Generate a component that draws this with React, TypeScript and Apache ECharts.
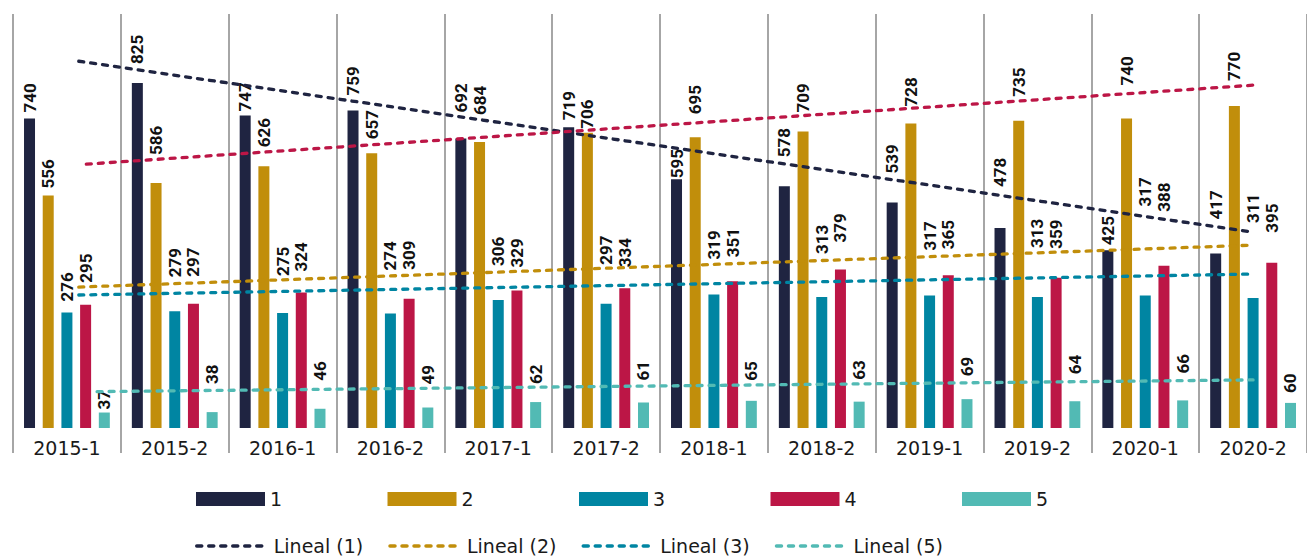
import React, { useEffect, useRef } from "react";
import * as echarts from "echarts";

// ---- data ----
const categories = ["2015-1", "2015-2", "2016-1", "2016-2", "2017-1", "2017-2", "2018-1", "2018-2", "2019-1", "2019-2", "2020-1", "2020-2"];
const barNames = ["1", "2", "3", "4", "5"];
const s1 = [740, 825, 747, 759, 692, 719, 595, 578, 539, 478, 425, 417];
const s2 = [556, 586, 626, 657, 684, 706, 695, 709, 728, 735, 740, 770];
const s3 = [276, 279, 275, 274, 306, 297, 319, 313, 317, 313, 317, 311];
const s4 = [295, 297, 324, 309, 329, 334, 351, 379, 365, 359, 388, 395];
const s5 = [37, 38, 46, 49, 62, 61, 65, 63, 69, 64, 66, 60];

// trend lines: start/end position (category index) and value
const trendNames = ["Lineal (1)", "Lineal (2)", "Lineal (3)", "Lineal (5)", "Lineal (4)"];
const trendX1 = [0.11, 10.98];
const trendY1 = [877, 469];
const trendXRed = [0.18, 11.01];
const trendYRed = [631, 820];
const trendXGold = [0.11, 10.96];
const trendYGold = [337, 437];
const trendX3 = [0.11, 10.96];
const trendY3 = [318, 368];
const trendX5 = [0.28, 11.0];
const trendY5 = [87, 115];

// label gap above each bar (px), as placed in the reference
const gap1 = [6, 19, 4, 15, 26, 7, 1, 29, 29, 41, 5, 34];
const gap2 = [7, 28, 19, 14, 27, 4, 23, 19, 17, 24, 33, 25];
const gap3 = [11, 34, 37, 43, 34, 39, 35, 43, 45, 49, 89, 75];
const gap4 = [22, 27, 21, 29, 23, 21, 24, 27, 26, 29, 54, 30];
const gap5 = [3, 28, 28, 23, 18, 22, 20, 22, 23, 27, 27, 10];

const colors = ["#1f2441", "#c18e0b", "#0085a2", "#bc1646", "#52bab4"];
const gridColor = "#a6a6a6";
const textFont = "'DejaVu Sans', sans-serif";
const labelFont = "Roboto, 'DejaVu Sans Condensed', sans-serif";

export default function App() {
  const ref = useRef<HTMLDivElement>(null);

  useEffect(() => {
    if (!ref.current) return;
    document.body.style.margin = "0";
    const chart = echarts.init(ref.current, null, { renderer: "svg" });

    const barSeries = [s1, s2, s3, s4, s5].map((vals, si) => {
      const gaps = [gap1, gap2, gap3, gap4, gap5][si];
      return {
        name: barNames[si],
        type: "bar",
        xAxisIndex: 0,
        yAxisIndex: 0,
        barWidth: 11,
        barGap: "70%",
        itemStyle: { color: colors[si] },
        label: {
          show: true,
          position: "top",
          rotate: 90,
          align: "left",
          verticalAlign: "middle",
          fontFamily: labelFont,
          fontWeight: "bold",
          fontSize: 17,
          color: "#111111",
        },
        data: vals.map((v, i) => ({ value: v, label: { distance: gaps[i] } })),
        z: 2,
      };
    });

    const mkTrend = (name: string, xs: number[], ys: number[], color: string) => ({
      name,
      type: "line",
      xAxisIndex: 1,
      yAxisIndex: 0,
      symbol: "none",
      showSymbol: false,
      lineStyle: { color, width: 3.3, type: [5, 7], cap: "round" },
      itemStyle: { color },
      data: xs.map((x, i) => [x, ys[i]]),
      z: 5,
    });

    const lineSeries = [
      mkTrend(trendNames[0], trendX1, trendY1, colors[0]),
      mkTrend(trendNames[1], trendXGold, trendYGold, colors[1]),
      mkTrend(trendNames[2], trendX3, trendY3, colors[2]),
      mkTrend(trendNames[3], trendX5, trendY5, colors[4]),
      mkTrend(trendNames[4], trendXRed, trendYRed, colors[3]),
    ];

    chart.setOption({
      animation: false,
      grid: { left: 13, top: 14, width: 1305, height: 414 },
      legend: [
        {
          data: barNames,
          left: 196,
          top: 489,
          padding: 0,
          itemWidth: 69,
          itemHeight: 14,
          itemGap: 17.5,
          icon: "rect",
          textStyle: { fontFamily: textFont, fontSize: 19, color: "#1a1a1a", width: 100, lineHeight: 20 },
        },
        {
          data: trendNames.slice(0, 4),
          left: 195,
          top: 536,
          padding: 0,
          itemWidth: 72,
          itemHeight: 14,
          itemGap: 14.5,
          itemStyle: { opacity: 0, color: "transparent", borderWidth: 0 },
          lineStyle: { width: 3.5 },
          textStyle: { fontFamily: textFont, fontSize: 19, color: "#1a1a1a", width: 100, lineHeight: 20 },
        },
      ],
      xAxis: [
        {
          type: "category",
          data: categories,
          boundaryGap: true,
          axisLine: { show: false },
          axisTick: { show: true, interval: 0, length: 25, lineStyle: { color: gridColor, width: 2 } },
          splitLine: { show: true, interval: 0, lineStyle: { color: gridColor, width: 2 } },
          axisLabel: { interval: 0, margin: 10, fontFamily: textFont, fontSize: 19, color: "#1a1a1a" },
        },
        { type: "value", min: -0.5, max: 11.5, show: false },
      ],
      yAxis: { type: "value", min: 0, max: 990, show: false },
      series: [...barSeries, ...lineSeries],
    });

    return () => chart.dispose();
  }, []);

  return (
    <div
      ref={ref}
      style={{ position: "fixed", left: 0, top: 0, width: 1307, height: 557, background: "#ffffff" }}
    />
  );
}
